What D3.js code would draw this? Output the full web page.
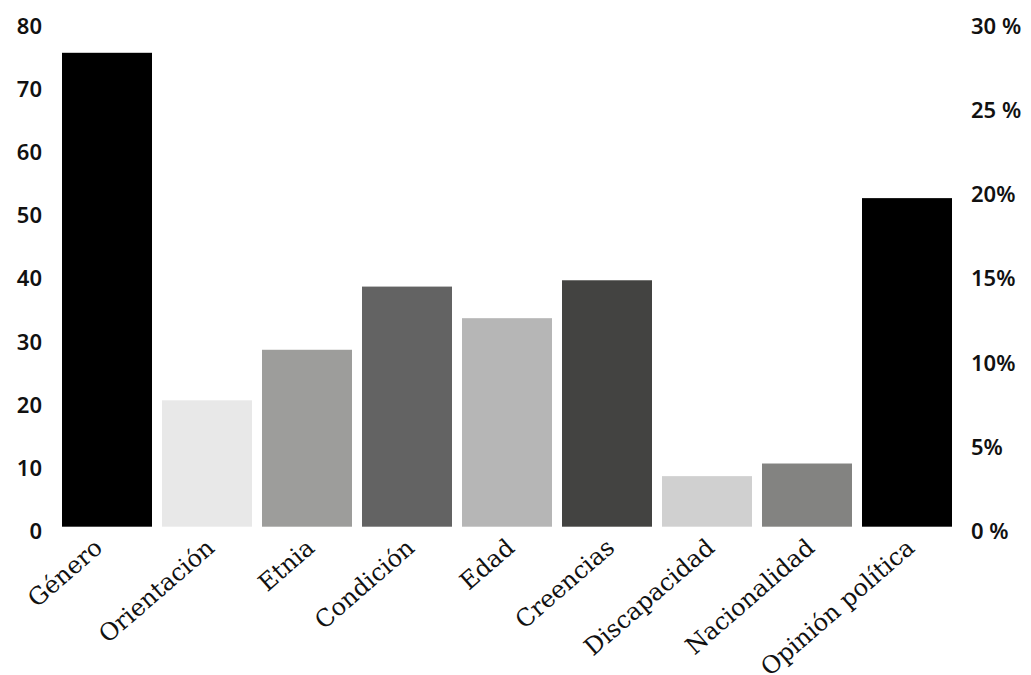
<!DOCTYPE html>
<html>
<head>
<meta charset="utf-8">
<script src="https://cdn.jsdelivr.net/npm/d3@7"></script>
<style>
  html, body { margin: 0; padding: 0; background: #fff; }
  svg { display: block; }
  .num text { font-family: "Noto Sans", sans-serif; font-size: 22px; font-weight: 600; fill: #111; }
  .cat text { font-family: "DejaVu Serif", serif; font-size: 24px; fill: #111; }
</style>
</head>
<body>
<svg id="chart" width="1031" height="675"></svg>
<script>
const categories = ["Género", "Orientación", "Etnia", "Condición", "Edad", "Creencias", "Discapacidad", "Nacionalidad", "Opinión política"];
const values = [75, 20, 28, 38, 33, 39, 8, 10, 52];
const colors = ["#000000", "#e8e8e8", "#9d9d9b", "#636363", "#b6b6b6", "#434341", "#d0d0d0", "#838381", "#000000"];
const leftTicks = [0, 10, 20, 30, 40, 50, 60, 70, 80];
const rightTicks = [0, 5, 10, 15, 20, 25, 30];
const rightTickLabels = ["0 %", "5%", "10%", "15%", "20%", "25 %", "30 %"];

const svg = d3.select("#chart");
const x = d3.scaleBand().domain(categories).range([57, 957]).paddingInner(0.1).paddingOuter(0.05);
const y = d3.scaleLinear().domain([0, 80]).range([526.7, 21.2]);
const y2 = d3.scaleLinear().domain([0, 30]).range([526.7, 21.2]);

svg.append("g").selectAll("rect").data(values).join("rect")
  .attr("x", (d, i) => x(categories[i]))
  .attr("y", d => y(d))
  .attr("width", x.bandwidth())
  .attr("height", d => y(0) - y(d))
  .attr("fill", (d, i) => colors[i]);

const gl = svg.append("g").attr("class", "num").attr("transform", "translate(42,5)")
  .call(d3.axisLeft(y).tickValues(leftTicks).tickSize(0).tickPadding(0).tickFormat(d3.format("d")));
gl.select(".domain").remove();

const gr = svg.append("g").attr("class", "num").attr("transform", "translate(971,5)")
  .call(d3.axisRight(y2).tickValues(rightTicks).tickSize(0).tickPadding(0).tickFormat((d, i) => rightTickLabels[i]));
gr.select(".domain").remove();

const gx = svg.append("g").attr("class", "cat")
  .call(d3.axisBottom(x).tickSize(0).tickFormat(d => d));
gx.select(".domain").remove();
gx.selectAll(".tick").attr("transform", (d, i) => `translate(${x(d) + x.bandwidth() / 2 + (i === 0 ? -3 : 9)},550)`);
gx.selectAll(".tick text")
  .attr("y", 0).attr("dy", 0)
  .attr("text-anchor", "end")
  .attr("transform", "rotate(-41)");
</script>
</body>
</html>
